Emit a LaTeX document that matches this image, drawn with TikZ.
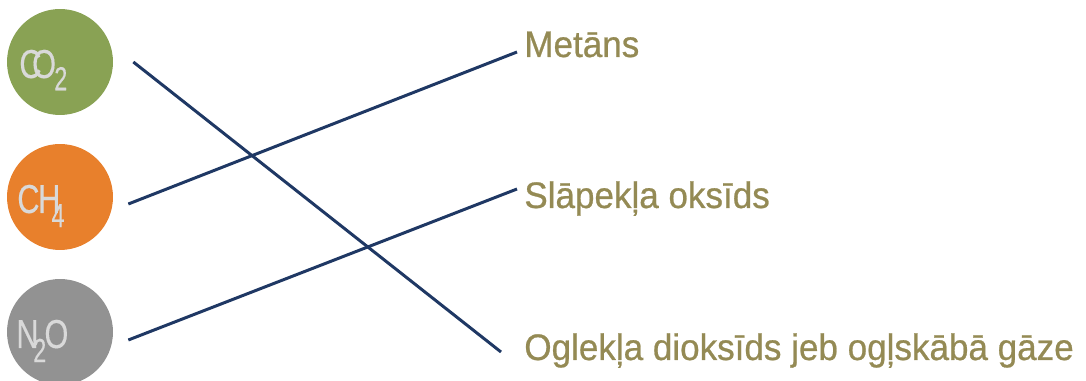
\documentclass[tikz,border=0pt]{standalone}
\usepackage{fontspec}
\setmainfont{Liberation Sans}
\newfontfamily\namefont[FakeBold=0.7]{Liberation Sans}
\newfontfamily\formulafont[FakeBold=0.3]{Liberation Sans}
\definecolor{cogreen}{RGB}{137,162,84}
\definecolor{chorange}{RGB}{232,128,44}
\definecolor{nogray}{RGB}{146,146,146}
\definecolor{formulagray}{RGB}{217,217,217}
\definecolor{nameolive}{RGB}{148,138,84}
\definecolor{linknavy}{RGB}{31,56,100}
\newcommand{\narrow}[1]{\scalebox{0.76}[1]{#1}}
\newcommand{\idx}[1]{{\fontsize{19}{19}\selectfont\scalebox{0.7}[1]{#1}}}
\begin{document}
\begin{tikzpicture}[x=0.02cm,y=-0.02cm,
  gas/.style={circle,minimum size=2.12cm,inner sep=0pt},
  formula/.style={anchor=base west,inner sep=0pt,text=formulagray,font=\formulafont\fontsize{23}{23}\selectfont},
  gasname/.style={anchor=base west,inner sep=0pt,text=nameolive,font=\namefont\fontsize{21}{21}\selectfont},
  link/.style={draw=linknavy,line width=1.7pt}]
\useasboundingbox (0,0) rectangle (1086,381);

\node[gas,fill=cogreen] (co2) at (60,62) {};
\node[gas,fill=chorange] (ch4) at (60,197) {};
\node[gas,fill=nogray] (n2o) at (60,332) {};

\node[formula] (co2txt) at (19,78) {\narrow{C\kern-7pt O}\kern-1pt\raisebox{-7pt}{\idx{2}}};
\node[formula] (ch4txt) at (17,213) {\narrow{C\kern-1pt H}\kern-5pt\raisebox{-8pt}{\idx{4}}};
\node[formula] (n2otxt) at (16,348) {\narrow{N}\kern-3pt\raisebox{-8pt}{\idx{2}}\kern-1pt\narrow{O}};

\node[gasname] (metans) at (524,57) {\scalebox{0.95}[1]{Metāns}};
\node[gasname] (slapeklis) at (524,208) {\scalebox{0.95}[1]{Slāpekļa oksīds}};
\node[gasname] (oglekla) at (524,360) {\scalebox{0.95}[1]{Oglekļa dioksīds jeb ogļskābā gāze}};

\path[link] ([shift={(20,0)}]co2.east) -- ([shift={(-23,-8)}]oglekla.base west);
\path[link] ([shift={(15,7)}]ch4.east) -- ([shift={(-7,-5)}]metans.base west);
\path[link] ([shift={(15,8)}]n2o.east) -- ([shift={(-7,-19)}]slapeklis.base west);
\end{tikzpicture}
\end{document}
